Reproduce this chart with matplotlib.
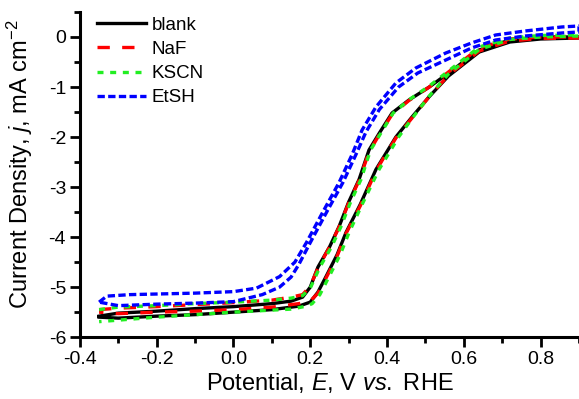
import matplotlib
matplotlib.use("Agg")
import matplotlib.pyplot as plt
from matplotlib.ticker import MultipleLocator, FormatStrFormatter

plt.rcParams["font.family"] = ["Liberation Sans", "DejaVu Sans"]
plt.rcParams["mathtext.fontset"] = "custom"
plt.rcParams["mathtext.rm"] = "Liberation Sans"
plt.rcParams["mathtext.it"] = "Liberation Sans:italic"
plt.rcParams["axes.unicode_minus"] = False

# each curve is one CV loop: branch A (-0.35 -> 0.9) then branch B (0.9 -> -0.35)
blank_E = [-0.35, -0.3, -0.2, -0.1, 0.0, 0.1, 0.15, 0.18, 0.2, 0.22, 0.25, 0.275, 0.3,
           0.327, 0.353, 0.38, 0.413, 0.457, 0.51, 0.56, 0.64, 0.72, 0.8, 0.9,
           0.9, 0.8, 0.72, 0.64, 0.56, 0.509, 0.465, 0.423, 0.387, 0.371, 0.33, 0.293,
           0.27, 0.241, 0.22, 0.2, 0.17, 0.1, 0.0, -0.1, -0.2, -0.3, -0.35]
blank_j = [-5.58, -5.52, -5.48, -5.43, -5.39, -5.33, -5.28, -5.2, -5.0, -4.6, -4.2, -3.79, -3.3,
           -2.85, -2.26, -1.92, -1.52, -1.26, -1.0, -0.72, -0.26, -0.06, 0.0, 0.0,
           -0.02, -0.04, -0.1, -0.3, -0.78, -1.2, -1.6, -2.0, -2.45, -2.65, -3.35, -3.91,
           -4.35, -4.79, -5.1, -5.3, -5.38, -5.45, -5.5, -5.55, -5.58, -5.62, -5.6]

naf_E = [-0.35, -0.3, -0.2, -0.1, 0.0, 0.1, 0.15, 0.18, 0.2, 0.22, 0.25, 0.275, 0.3,
         0.327, 0.353, 0.38, 0.413, 0.457, 0.51, 0.56, 0.64, 0.72, 0.8, 0.9,
         0.9, 0.8, 0.72, 0.64, 0.56, 0.509, 0.465, 0.423, 0.387, 0.371, 0.33, 0.293,
         0.27, 0.241, 0.22, 0.2, 0.17, 0.1, 0.0, -0.1, -0.2, -0.3, -0.35]
naf_j = [-5.45, -5.42, -5.39, -5.35, -5.31, -5.26, -5.2, -5.15, -4.98, -4.62, -4.2, -3.8, -3.32,
         -2.87, -2.3, -1.95, -1.55, -1.27, -1.0, -0.7, -0.22, -0.04, 0.0, 0.0,
         -0.02, -0.03, -0.08, -0.28, -0.76, -1.2, -1.62, -2.02, -2.47, -2.68, -3.38, -3.93,
         -4.38, -4.82, -5.12, -5.28, -5.33, -5.4, -5.45, -5.48, -5.5, -5.53, -5.5]

kscn_E = [-0.35, -0.3, -0.2, -0.1, 0.0, 0.1, 0.15, 0.18, 0.2, 0.225, 0.255, 0.28, 0.305,
          0.332, 0.357, 0.384, 0.416, 0.46, 0.51, 0.56, 0.64, 0.72, 0.8, 0.9,
          0.9, 0.8, 0.72, 0.64, 0.56, 0.51, 0.47, 0.43, 0.395, 0.379, 0.338, 0.301,
          0.278, 0.249, 0.225, 0.205, 0.19, 0.15, 0.1, 0.0, -0.1, -0.2, -0.3, -0.35]
kscn_j = [-5.45, -5.4, -5.37, -5.33, -5.3, -5.26, -5.22, -5.17, -5.02, -4.6, -4.2, -3.79, -3.3,
          -2.85, -2.26, -1.92, -1.52, -1.24, -0.98, -0.68, -0.2, -0.02, 0.03, 0.04,
          0.02, 0.0, -0.05, -0.25, -0.74, -1.18, -1.58, -2.0, -2.45, -2.65, -3.3, -3.91,
          -4.35, -4.79, -5.15, -5.33, -5.38, -5.44, -5.46, -5.5, -5.55, -5.6, -5.66, -5.69]

etsh_E = [-0.35, -0.33, -0.27, -0.1, 0.0, 0.06, 0.12, 0.16, 0.19, 0.232, 0.275, 0.309,
          0.335, 0.371, 0.423, 0.475, 0.553, 0.62, 0.683, 0.76, 0.855, 0.9,
          0.9, 0.855, 0.76, 0.683, 0.62, 0.553, 0.48, 0.43, 0.38, 0.345, 0.319, 0.285,
          0.242, 0.2, 0.17, 0.15, 0.12, 0.075, 0.0, -0.1, -0.2, -0.3, -0.35]
etsh_j = [-5.3, -5.18, -5.15, -5.12, -5.09, -5.02, -4.79, -4.5, -4.11, -3.51, -2.91, -2.35,
          -1.86, -1.4, -0.92, -0.62, -0.32, -0.12, 0.04, 0.12, 0.2, 0.22,
          0.1, 0.08, 0.02, -0.06, -0.22, -0.46, -0.72, -1.0, -1.45, -1.9, -2.35, -2.91,
          -3.51, -4.11, -4.55, -4.8, -5.0, -5.15, -5.29, -5.32, -5.34, -5.37, -5.3]

fig = plt.figure(figsize=(5.79, 3.99), dpi=100)
ax = fig.add_axes([0.138, 0.155, 0.862, 0.815])

ax.plot(blank_E, blank_j, color="black", lw=2.4, label="blank")
ax.plot(naf_E, naf_j, color="#ff0000", lw=2.4, dashes=(3.7, 3.7), label="NaF")
ax.plot(kscn_E, kscn_j, color="#22ee22", lw=2.4, dashes=(1.8, 2.0), label="KSCN")
ax.plot(etsh_E, etsh_j, color="#0000ff", lw=2.4, dashes=(2.2, 1.0), label="EtSH")

ax.set_xlim(-0.4, 0.9)
ax.set_ylim(-6, 0.5)
ax.xaxis.set_major_locator(MultipleLocator(0.2))
ax.xaxis.set_minor_locator(MultipleLocator(0.1))
ax.yaxis.set_major_locator(MultipleLocator(1))
ax.yaxis.set_minor_locator(MultipleLocator(0.5))
ax.xaxis.set_major_formatter(FormatStrFormatter("%.1f"))
ax.yaxis.set_major_formatter(FormatStrFormatter("%d"))

for s in ("top", "right"):
    ax.spines[s].set_visible(False)
for s in ("left", "bottom"):
    ax.spines[s].set_linewidth(2.2)
ax.tick_params(which="major", direction="out", length=7, width=2, labelsize=14, pad=3)
ax.tick_params(which="minor", direction="out", length=4, width=2)

ax.set_xlabel("Potential, $E$, V $vs.$ RHE", fontsize=17, labelpad=2)
ax.set_ylabel("Current Density, $j$, mA cm$^{-2}$", fontsize=17)
ax.yaxis.set_label_coords(-0.09, 0.53)

ax.legend(loc="upper left", bbox_to_anchor=(0.02, 1.008), frameon=False, fontsize=13.5,
          handlelength=2.6, handletextpad=0.3, labelspacing=0.37, borderaxespad=0)

fig.savefig("out.png", dpi=100)
